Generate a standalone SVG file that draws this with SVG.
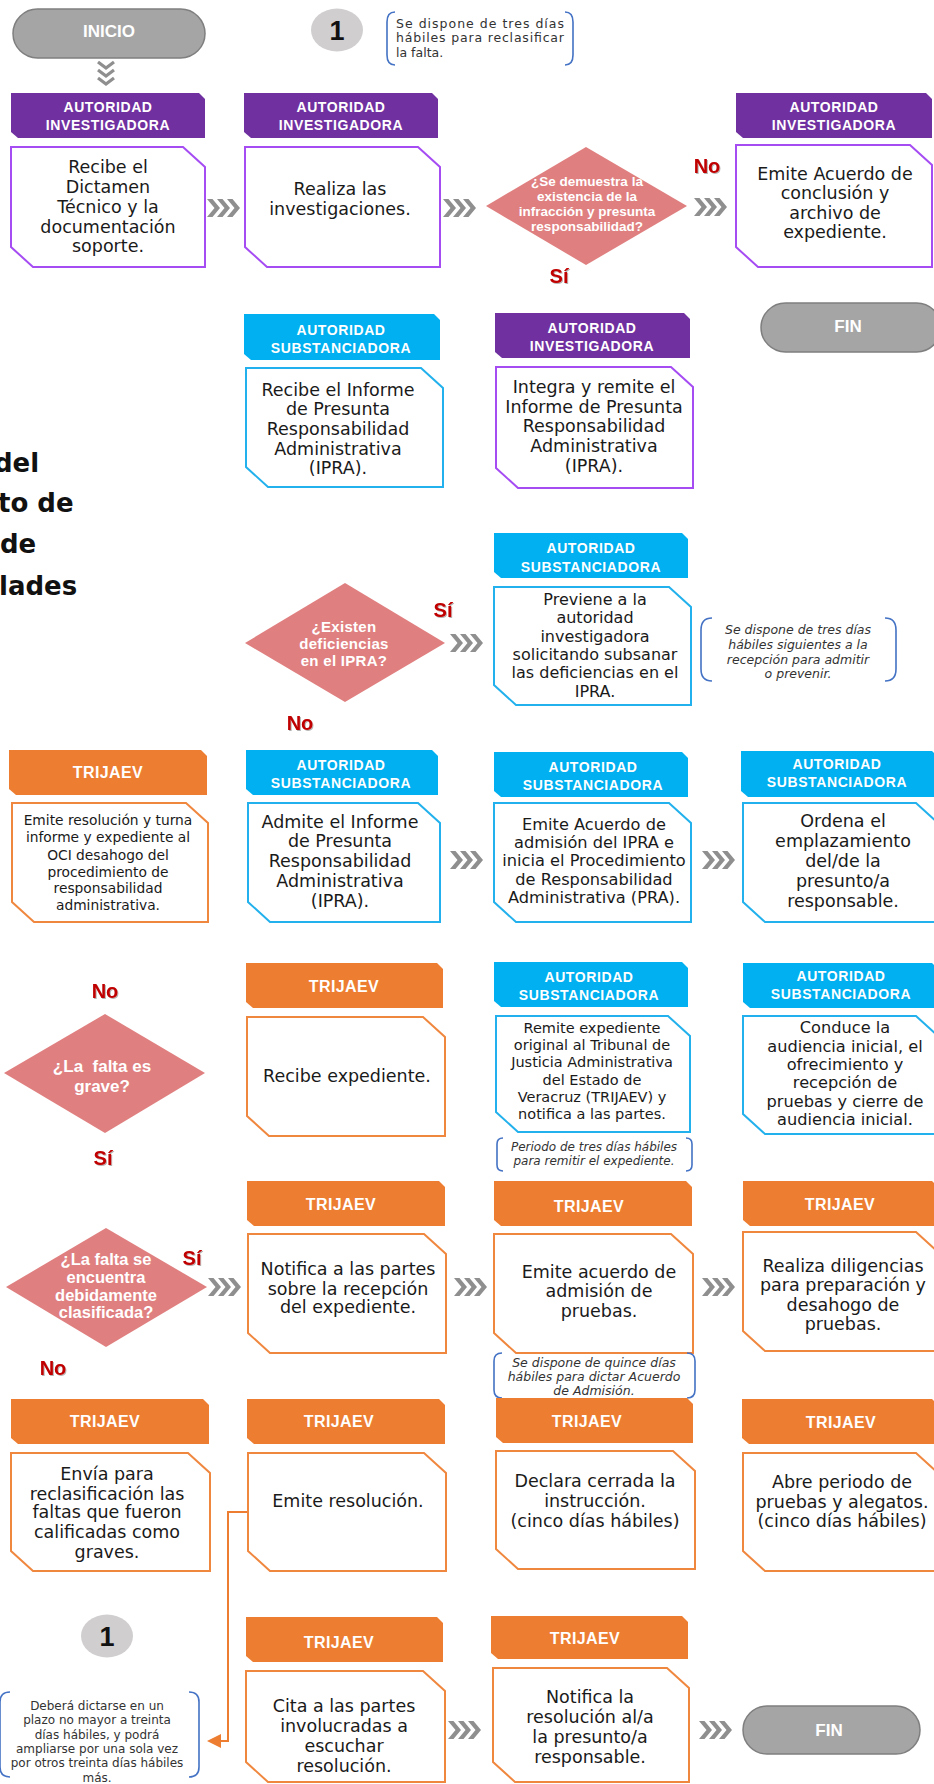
<svg xmlns="http://www.w3.org/2000/svg" xmlns:xlink="http://www.w3.org/1999/xlink" width="934" height="1784" viewBox="0 0 934 1784">
<style>
.hp{fill:#7030a0}.hc{fill:#00b0f0}.ho{fill:#ed7d31}
.bx{fill:#fff;stroke-width:2}.bp{stroke:#a64cf3}.bc{stroke:#22b1ec}.bo{stroke:#f0873f}
.ht{font-family:"Liberation Sans",Arial,sans-serif;font-weight:bold;font-size:14px;fill:#fff;text-anchor:middle;letter-spacing:0.6px}
.htt{font-size:16px;letter-spacing:0.4px}
.bt{font-family:"DejaVu Sans",sans-serif;font-size:17.5px;fill:#1a1a1a;text-anchor:middle}
.dm{fill:#e07f7f}
.dt{font-family:"Liberation Sans",Arial,sans-serif;font-weight:bold;fill:#fff;text-anchor:middle}
.lb{font-family:"Liberation Sans",Arial,sans-serif;font-weight:bold;font-size:20px;fill:#c00000;text-anchor:middle;filter:url(#sh)}
.pill{fill:#a5a5a5;stroke:#7f7f7f;stroke-width:1.5}
.pt{font-family:"Liberation Sans",Arial,sans-serif;font-weight:bold;font-size:17px;fill:#fff;text-anchor:middle}
.nt{font-family:"DejaVu Sans",sans-serif;font-size:12px;fill:#333}
.it{font-style:italic;text-anchor:middle}
.br{fill:none;stroke:#4472c4;stroke-width:1.6}
.cir{fill:#d0cece}
.num{font-family:"Liberation Sans",Arial,sans-serif;font-weight:bold;font-size:27px;fill:#111;text-anchor:middle}
.ttl{font-family:"DejaVu Sans",sans-serif;font-weight:bold;font-size:26px;fill:#111}
.chf{fill:#8f8f8f}
</style>
<defs>
<filter id="sh" x="-20%" y="-20%" width="150%" height="150%"><feDropShadow dx="1" dy="1" stdDeviation="0.6" flood-color="#000" flood-opacity="0.3"/></filter>
<symbol id="chv" viewBox="0 0 33 18"><g class="chf"><polygon points="0,0 5.5,0 13,9 5.5,18 0,18 7.5,9"/><polygon points="10,0 15.5,0 23,9 15.5,18 10,18 17.5,9"/><polygon points="20,0 25.5,0 33,9 25.5,18 20,18 27.5,9"/></g></symbol>
</defs>
<rect width="934" height="1784" fill="#fff"/>

<g id="title">
<text class="ttl" x="-6" y="472">del</text>
<text class="ttl" x="-2" y="512">to de</text>
<text class="ttl" x="0" y="553">de</text>
<text class="ttl" x="-1" y="595">lades</text>
</g>

<g id="inicio"><rect class="pill" x="13" y="9" width="192" height="49" rx="24.5"/><text class="pt" x="109" y="37">INICIO</text></g>
<g id="ref1-top"><ellipse class="cir" cx="337" cy="30" rx="26" ry="21.5"/><text class="num" x="337" y="40">1</text></g>
<g id="note-top">
<path class="br" d="M395 12 Q387 12 387 22 V55 Q387 65 395 65"/>
<path class="br" d="M565 12 Q573 12 573 22 V55 Q573 65 565 65"/>
<text class="nt" style="font-size:12.5px"><tspan x="396" y="28" textLength="168" lengthAdjust="spacing">Se dispone de tres días</tspan><tspan x="396" y="42" textLength="168" lengthAdjust="spacing">hábiles para reclasificar</tspan><tspan x="396" y="57">la falta.</tspan></text>
</g>

<g id="connectors">
<g fill="none" stroke="#8f8f8f" stroke-width="3.2" stroke-linejoin="miter"><polyline points="98,62 106,68 114,62"/><polyline points="98,70 106,76 114,70"/><polyline points="98,78 106,84 114,78"/></g>
<use href="#chv" x="207" y="199" width="33" height="18"/>
<use href="#chv" x="443" y="199" width="33" height="18"/>
<use href="#chv" x="694" y="198" width="33" height="18"/>
<use href="#chv" x="450" y="634" width="33" height="18"/>
<use href="#chv" x="450" y="851" width="33" height="18"/>
<use href="#chv" x="702" y="851" width="33" height="18"/>
<use href="#chv" x="208" y="1278" width="33" height="18"/>
<use href="#chv" x="454" y="1278" width="33" height="18"/>
<use href="#chv" x="702" y="1278" width="33" height="18"/>
<use href="#chv" x="448" y="1721" width="33" height="18"/>
<use href="#chv" x="699" y="1721" width="33" height="18"/>
<path d="M248 1512 H228 V1741 H219" fill="none" stroke="#ed7d31" stroke-width="2"/>
<polygon points="207,1741 221,1734 221,1748" fill="#ed7d31"/>
</g>

<g id="labels">
<text class="lb" x="707" y="173">No</text>
<text class="lb" x="559" y="283">Sí</text>
<text class="lb" x="443" y="617">Sí</text>
<text class="lb" x="300" y="730">No</text>
<text class="lb" x="105" y="998">No</text>
<text class="lb" x="103" y="1165">Sí</text>
<text class="lb" x="192" y="1265">Sí</text>
<text class="lb" x="53" y="1375">No</text>
</g>

<!-- Row 1 -->
<g id="n-recibe-dictamen">
<path class="hp" d="M11 93 H199 L205 99 V138 H18 L11 132 Z"/>
<text class="ht"><tspan x="108" y="112">AUTORIDAD</tspan><tspan x="108" y="130">INVESTIGADORA</tspan></text>
<path class="bx bp" d="M11 147 H183 L205 167 V267 H33 L11 247 Z"/>
<text class="bt"><tspan x="108" y="173">Recibe el</tspan><tspan x="108" y="193">Dictamen</tspan><tspan x="108" y="213">Técnico y la</tspan><tspan x="108" y="233">documentación</tspan><tspan x="108" y="252">soporte.</tspan></text>
</g>
<g id="n-realiza">
<path class="hp" d="M244 93 H432 L438 99 V138 H251 L244 132 Z"/>
<text class="ht"><tspan x="341" y="112">AUTORIDAD</tspan><tspan x="341" y="130">INVESTIGADORA</tspan></text>
<path class="bx bp" d="M245 147 H418 L440 167 V267 H267 L245 247 Z"/>
<text class="bt"><tspan x="340" y="195">Realiza las</tspan><tspan x="340" y="215">investigaciones.</tspan></text>
</g>
<g id="d-demuestra">
<polygon class="dm" points="586,147 687,206 586,265 486,206"/>
<text class="dt" style="font-size:13.5px"><tspan x="587" y="186">¿Se demuestra la</tspan><tspan x="587" y="201">existencia de la</tspan><tspan x="587" y="216">infracción y presunta</tspan><tspan x="587" y="231">responsabilidad?</tspan></text>
</g>
<g id="n-emite-conclusion">
<path class="hp" d="M736 93 H926 L932 99 V138 H743 L736 132 Z"/>
<text class="ht"><tspan x="834" y="112">AUTORIDAD</tspan><tspan x="834" y="130">INVESTIGADORA</tspan></text>
<path class="bx bp" d="M736 145 H910 L932 165 V267 H758 L736 247 Z"/>
<text class="bt"><tspan x="835" y="180">Emite Acuerdo de</tspan><tspan x="835" y="199">conclusión y</tspan><tspan x="835" y="219">archivo de</tspan><tspan x="835" y="238">expediente.</tspan></text>
</g>

<!-- Row 2 -->
<g id="n-recibe-ipra">
<path class="hc" d="M244 314 H434 L440 320 V360 H251 L244 354 Z"/>
<text class="ht"><tspan x="341" y="335">AUTORIDAD</tspan><tspan x="341" y="353">SUBSTANCIADORA</tspan></text>
<path class="bx bc" d="M246 368 H421 L443 388 V487 H268 L246 467 Z"/>
<text class="bt"><tspan x="338" y="396">Recibe el Informe</tspan><tspan x="338" y="415">de Presunta</tspan><tspan x="338" y="435">Responsabilidad</tspan><tspan x="338" y="455">Administrativa</tspan><tspan x="338" y="474">(IPRA).</tspan></text>
</g>
<g id="n-integra">
<path class="hp" d="M495 313 H684 L690 319 V358 H502 L495 352 Z"/>
<text class="ht"><tspan x="592" y="333">AUTORIDAD</tspan><tspan x="592" y="351">INVESTIGADORA</tspan></text>
<path class="bx bp" d="M496 367 H671 L693 387 V488 H518 L496 468 Z"/>
<text class="bt"><tspan x="594" y="393">Integra y remite el</tspan><tspan x="594" y="413">Informe de Presunta</tspan><tspan x="594" y="432">Responsabilidad</tspan><tspan x="594" y="452">Administrativa</tspan><tspan x="594" y="472">(IPRA).</tspan></text>
</g>
<g id="fin-top"><rect class="pill" x="761" y="303" width="180" height="49" rx="24.5"/><text class="pt" x="848" y="332">FIN</text></g>

<!-- Row 3 -->
<g id="d-deficiencias">
<polygon class="dm" points="345,583 445,643 345,702 245,643"/>
<text class="dt" style="font-size:15px;letter-spacing:0.3px"><tspan x="344" y="632">¿Existen</tspan><tspan x="344" y="649">deficiencias</tspan><tspan x="344" y="666">en el IPRA?</tspan></text>
</g>
<g id="n-previene">
<path class="hc" d="M494 533 H682 L688 539 V578 H501 L494 572 Z"/>
<text class="ht"><tspan x="591" y="553">AUTORIDAD</tspan><tspan x="591" y="572">SUBSTANCIADORA</tspan></text>
<path class="bx bc" d="M494 587 H669 L691 607 V705 H516 L494 685 Z"/>
<text class="bt" style="font-size:16px"><tspan x="595" y="605">Previene a la</tspan><tspan x="595" y="623">autoridad</tspan><tspan x="595" y="642">investigadora</tspan><tspan x="595" y="660">solicitando subsanar</tspan><tspan x="595" y="678">las deficiencias en el</tspan><tspan x="595" y="697">IPRA.</tspan></text>
</g>
<g id="note-prevenir">
<path class="br" d="M712 618 Q701 618 701 630 V669 Q701 681 712 681"/>
<path class="br" d="M885 618 Q896 618 896 630 V669 Q896 681 885 681"/>
<text class="nt it" style="font-size:12.5px"><tspan x="798" y="634">Se dispone de tres días</tspan><tspan x="798" y="649">hábiles siguientes a la</tspan><tspan x="798" y="664">recepción para admitir</tspan><tspan x="798" y="678">o prevenir.</tspan></text>
</g>

<!-- Row 4 -->
<g id="n-emite-resolucion-turna">
<path class="ho" d="M9 750 H201 L207 756 V795 H16 L9 789 Z"/>
<text class="ht htt" x="108" y="778">TRIJAEV</text>
<path class="bx bo" d="M12 803 H186 L208 823 V922 H34 L12 902 Z"/>
<text class="bt" style="font-size:13.8px"><tspan x="108" y="825">Emite resolución y turna</tspan><tspan x="108" y="842">informe y expediente al</tspan><tspan x="108" y="860">OCI desahogo del</tspan><tspan x="108" y="877">procedimiento de</tspan><tspan x="108" y="893">responsabilidad</tspan><tspan x="108" y="910">administrativa.</tspan></text>
</g>
<g id="n-admite">
<path class="hc" d="M246 750 H432 L438 756 V795 H253 L246 789 Z"/>
<text class="ht"><tspan x="341" y="770">AUTORIDAD</tspan><tspan x="341" y="788">SUBSTANCIADORA</tspan></text>
<path class="bx bc" d="M248 803 H418 L440 823 V922 H270 L248 902 Z"/>
<text class="bt"><tspan x="340" y="828">Admite el Informe</tspan><tspan x="340" y="847">de Presunta</tspan><tspan x="340" y="867">Responsabilidad</tspan><tspan x="340" y="887">Administrativa</tspan><tspan x="340" y="907">(IPRA).</tspan></text>
</g>
<g id="n-acuerdo-admision-ipra">
<path class="hc" d="M494 752 H682 L688 758 V797 H501 L494 791 Z"/>
<text class="ht"><tspan x="593" y="772">AUTORIDAD</tspan><tspan x="593" y="790">SUBSTANCIADORA</tspan></text>
<path class="bx bc" d="M494 803 H669 L691 823 V922 H516 L494 902 Z"/>
<text class="bt" style="font-size:16.2px"><tspan x="594" y="830">Emite Acuerdo de</tspan><tspan x="594" y="848">admisión del IPRA e</tspan><tspan x="594" y="866">inicia el Procedimiento</tspan><tspan x="594" y="885">de Responsabilidad</tspan><tspan x="594" y="903">Administrativa (PRA).</tspan></text>
</g>
<g id="n-emplazamiento">
<path class="hc" d="M741 751 H932 L938 757 V797 H748 L741 791 Z"/>
<text class="ht"><tspan x="837" y="769">AUTORIDAD</tspan><tspan x="837" y="787">SUBSTANCIADORA</tspan></text>
<path class="bx bc" d="M743 803 H916 L938 823 V922 H765 L743 902 Z"/>
<text class="bt"><tspan x="843" y="827">Ordena el</tspan><tspan x="843" y="847">emplazamiento</tspan><tspan x="843" y="867">del/de la</tspan><tspan x="843" y="887">presunto/a</tspan><tspan x="843" y="907">responsable.</tspan></text>
</g>

<!-- Row 5 -->
<g id="d-grave">
<polygon class="dm" points="105,1014 205,1073 105,1133 4,1073"/>
<text class="dt" style="font-size:17px" xml:space="preserve"><tspan x="102" y="1072">¿La  falta es</tspan><tspan x="102" y="1092">grave?</tspan></text>
</g>
<g id="n-recibe-expediente">
<path class="ho" d="M246 963 H437 L443 969 V1008 H253 L246 1002 Z"/>
<text class="ht htt" x="344" y="992">TRIJAEV</text>
<path class="bx bo" d="M247 1017 H423 L445 1037 V1136 H269 L247 1116 Z"/>
<text class="bt" x="347" y="1082">Recibe expediente.</text>
</g>
<g id="n-remite">
<path class="hc" d="M494 962 H682 L688 968 V1007 H501 L494 1001 Z"/>
<text class="ht"><tspan x="589" y="982">AUTORIDAD</tspan><tspan x="589" y="1000">SUBSTANCIADORA</tspan></text>
<path class="bx bc" d="M496 1016 H668 L690 1036 V1132 H518 L496 1112 Z"/>
<text class="bt" style="font-size:14.5px"><tspan x="592" y="1033">Remite expediente</tspan><tspan x="592" y="1050">original al Tribunal de</tspan><tspan x="592" y="1067">Justicia Administrativa</tspan><tspan x="592" y="1085">del Estado de</tspan><tspan x="592" y="1102">Veracruz (TRIJAEV) y</tspan><tspan x="592" y="1119">notifica a las partes.</tspan></text>
</g>
<g id="note-remitir">
<path class="br" d="M503 1138 Q497 1138 497 1144 V1165 Q497 1171 503 1171"/>
<path class="br" d="M686 1138 Q692 1138 692 1144 V1165 Q692 1171 686 1171"/>
<text class="nt it"><tspan x="594" y="1151">Periodo de tres días hábiles</tspan><tspan x="594" y="1165">para remitir el expediente.</tspan></text>
</g>
<g id="n-audiencia">
<path class="hc" d="M743 963 H932 L938 969 V1008 H750 L743 1002 Z"/>
<text class="ht"><tspan x="841" y="981">AUTORIDAD</tspan><tspan x="841" y="999">SUBSTANCIADORA</tspan></text>
<path class="bx bc" d="M743 1016 H916 L938 1036 V1134 H765 L743 1114 Z"/>
<text class="bt" style="font-size:16.2px"><tspan x="845" y="1033">Conduce la</tspan><tspan x="845" y="1052">audiencia inicial, el</tspan><tspan x="845" y="1070">ofrecimiento y</tspan><tspan x="845" y="1088">recepción de</tspan><tspan x="845" y="1107">pruebas y cierre de</tspan><tspan x="845" y="1125">audiencia inicial.</tspan></text>
</g>

<!-- Row 6 -->
<g id="d-clasificada">
<polygon class="dm" points="106,1228 207,1287 106,1347 6,1287"/>
<text class="dt" style="font-size:16.5px"><tspan x="106" y="1265">¿La falta se</tspan><tspan x="106" y="1283">encuentra</tspan><tspan x="106" y="1301">debidamente</tspan><tspan x="106" y="1318">clasificada?</tspan></text>
</g>
<g id="n-notifica-recepcion">
<path class="ho" d="M247 1181 H439 L445 1187 V1226 H254 L247 1220 Z"/>
<text class="ht htt" x="341" y="1210">TRIJAEV</text>
<path class="bx bo" d="M248 1234 H424 L446 1254 V1353 H270 L248 1333 Z"/>
<text class="bt"><tspan x="348" y="1275">Notifica a las partes</tspan><tspan x="348" y="1295">sobre la recepción</tspan><tspan x="348" y="1313">del expediente.</tspan></text>
</g>
<g id="n-admision-pruebas">
<path class="ho" d="M494 1181 H686 L692 1187 V1226 H501 L494 1220 Z"/>
<text class="ht htt" x="589" y="1212">TRIJAEV</text>
<path class="bx bo" d="M494 1234 H671 L693 1254 V1353 H516 L494 1333 Z"/>
<text class="bt"><tspan x="599" y="1278">Emite acuerdo de</tspan><tspan x="599" y="1297">admisión de</tspan><tspan x="599" y="1317">pruebas.</tspan></text>
</g>
<g id="note-quince">
<path class="br" d="M502 1353 Q494 1353 494 1361 V1390 Q494 1398 502 1398"/>
<path class="br" d="M687 1353 Q695 1353 695 1361 V1390 Q695 1398 687 1398"/>
<text class="nt it" style="font-size:12.5px"><tspan x="594" y="1367">Se dispone de quince días</tspan><tspan x="594" y="1381">hábiles para dictar Acuerdo</tspan><tspan x="594" y="1395">de Admisión.</tspan></text>
</g>
<g id="n-diligencias">
<path class="ho" d="M743 1181 H932 L938 1187 V1226 H750 L743 1220 Z"/>
<text class="ht htt" x="840" y="1210">TRIJAEV</text>
<path class="bx bo" d="M743 1232 H916 L938 1252 V1351 H765 L743 1331 Z"/>
<text class="bt"><tspan x="843" y="1272">Realiza diligencias</tspan><tspan x="843" y="1291">para preparación y</tspan><tspan x="843" y="1311">desahogo de</tspan><tspan x="843" y="1330">pruebas.</tspan></text>
</g>

<!-- Row 7 -->
<g id="n-reclasificacion">
<path class="ho" d="M11 1399 H203 L209 1405 V1444 H18 L11 1438 Z"/>
<text class="ht htt" x="105" y="1427">TRIJAEV</text>
<path class="bx bo" d="M11 1453 H188 L210 1473 V1571 H33 L11 1551 Z"/>
<text class="bt"><tspan x="107" y="1480">Envía para</tspan><tspan x="107" y="1500">reclasificación las</tspan><tspan x="107" y="1518">faltas que fueron</tspan><tspan x="107" y="1538">calificadas como</tspan><tspan x="107" y="1558">graves.</tspan></text>
</g>
<g id="n-emite-resolucion">
<path class="ho" d="M247 1399 H439 L445 1405 V1444 H254 L247 1438 Z"/>
<text class="ht htt" x="339" y="1427">TRIJAEV</text>
<path class="bx bo" d="M248 1453 H424 L446 1473 V1571 H270 L248 1551 Z"/>
<text class="bt" x="348" y="1507">Emite resolución.</text>
</g>
<g id="n-cerrada">
<path class="ho" d="M496 1398 H687 L693 1404 V1443 H503 L496 1437 Z"/>
<text class="ht htt" x="587" y="1427">TRIJAEV</text>
<path class="bx bo" d="M496 1451 H673 L695 1471 V1569 H518 L496 1549 Z"/>
<text class="bt"><tspan x="595" y="1487">Declara cerrada la</tspan><tspan x="595" y="1507">instrucción.</tspan><tspan x="595" y="1527">(cinco días hábiles)</tspan></text>
</g>
<g id="n-alegatos">
<path class="ho" d="M742 1399 H932 L938 1405 V1444 H749 L742 1438 Z"/>
<text class="ht htt" x="841" y="1428">TRIJAEV</text>
<path class="bx bo" d="M743 1453 H916 L938 1473 V1571 H765 L743 1551 Z"/>
<text class="bt"><tspan x="842" y="1488">Abre periodo de</tspan><tspan x="842" y="1508">pruebas y alegatos.</tspan><tspan x="842" y="1527">(cinco días hábiles)</tspan></text>
</g>

<!-- Row 8 -->
<g id="ref1-bottom"><ellipse class="cir" cx="107" cy="1636" rx="26" ry="21.5"/><text class="num" x="107" y="1646">1</text></g>
<g id="note-treinta">
<path class="br" d="M10 1692 Q0 1692 0 1702 V1767 Q0 1777 10 1777"/>
<path class="br" d="M189 1692 Q199 1692 199 1702 V1767 Q199 1777 189 1777"/>
<text class="nt" text-anchor="middle"><tspan x="97" y="1710">Deberá dictarse en un</tspan><tspan x="97" y="1724">plazo no mayor a treinta</tspan><tspan x="97" y="1739">días hábiles, y podrá</tspan><tspan x="97" y="1753">ampliarse por una sola vez</tspan><tspan x="97" y="1767">por otros treinta días hábiles</tspan><tspan x="97" y="1782">más.</tspan></text>
</g>
<g id="n-cita">
<path class="ho" d="M246 1617 H437 L443 1623 V1662 H253 L246 1656 Z"/>
<text class="ht htt" x="339" y="1648">TRIJAEV</text>
<path class="bx bo" d="M246 1671 H423 L445 1691 V1782 H268 L246 1762 Z"/>
<text class="bt"><tspan x="344" y="1712">Cita a las partes</tspan><tspan x="344" y="1732">involucradas a</tspan><tspan x="344" y="1752">escuchar</tspan><tspan x="344" y="1772">resolución.</tspan></text>
</g>
<g id="n-notifica-resolucion">
<path class="ho" d="M491 1616 H682 L688 1622 V1659 H498 L491 1653 Z"/>
<text class="ht htt" x="585" y="1644">TRIJAEV</text>
<path class="bx bo" d="M493 1668 H667 L689 1688 V1782 H515 L493 1762 Z"/>
<text class="bt"><tspan x="590" y="1703">Notifica la</tspan><tspan x="590" y="1723">resolución al/a</tspan><tspan x="590" y="1743">la presunto/a</tspan><tspan x="590" y="1763">responsable.</tspan></text>
</g>
<g id="fin-bottom"><rect class="pill" x="743" y="1706" width="177" height="48" rx="24"/><text class="pt" x="829" y="1736">FIN</text></g>
</svg>
